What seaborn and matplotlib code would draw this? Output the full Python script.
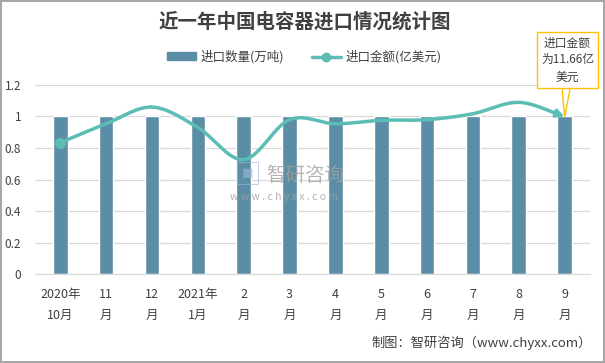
import numpy as np
import pandas as pd
import matplotlib
matplotlib.use("Agg")
import matplotlib.pyplot as plt
import seaborn as sns
from matplotlib.patches import Patch
from matplotlib.lines import Line2D

sns.set_style("white")
plt.rcParams['font.family'] = ['Noto Sans CJK SC', 'DejaVu Sans']

# 数据
months = ["2020年\n10月", "11\n月", "12\n月", "2021年\n1月", "2\n月", "3\n月",
          "4\n月", "5\n月", "6\n月", "7\n月", "8\n月", "9\n月"]
qty = [1, 1, 1, 1, 1, 1, 1, 1, 1, 1, 1, 1]                 # 进口数量(万吨)
amount = [9.73, 11.13, 12.36, 10.85, 8.47, 11.43, 11.13,
          11.38, 11.43, 11.87, 12.71, 11.66]               # 进口金额(亿美元)

bar_color = '#5b8ea6'
line_color = '#5bbdb3'

df = pd.DataFrame({'month': months, 'qty': qty, 'amount': amount})

fig = plt.figure(figsize=(6.05, 3.63), dpi=100)
fig.patch.set_edgecolor('#a6a6a6')
fig.patch.set_linewidth(1.5)
ax = fig.add_axes([0.058, 0.245, 0.917, 0.521])

sns.barplot(data=df, x='month', y='qty', color=bar_color, width=0.32,
            saturation=1, ax=ax, zorder=2)
ax.set_ylim(0, 1.2)
ax.set_yticks(np.arange(0, 1.21, 0.2))
ax.set_yticklabels(['0', '0.2', '0.4', '0.6', '0.8', '1', '1.2'], fontsize=8.5, color='#404040')
ax.tick_params(axis='x', labelsize=9, colors='#404040', length=0, pad=10)
ax.tick_params(axis='y', length=0, pad=10)
for lbl in ax.get_xticklabels():
    lbl.set_linespacing(1.75)
ax.set_xlabel('')
ax.set_ylabel('')
ax.grid(axis='y', color='#d9d9d9', lw=0.9, zorder=0)
ax.set_axisbelow(True)
for s in ['top', 'right', 'left']:
    ax.spines[s].set_visible(False)
ax.spines['bottom'].set_color('#d9d9d9')
ax.set_xlim(-0.55, 11.55)

# 平滑曲线（次坐标轴，隐藏）
ax2 = ax.twinx()
ax2.set_ylim(0, 14)
ax2.axis('off')
xs = np.arange(len(amount), dtype=float)
ys = np.array(amount)
px = np.concatenate([[2 * xs[0] - xs[1]], xs, [2 * xs[-1] - xs[-2]]])
py = np.concatenate([[2 * ys[0] - ys[1]], ys, [2 * ys[-1] - ys[-2]]])
cx, cy = [], []
t = np.linspace(0, 1, 20)
for i in range(1, len(px) - 2):
    p0, p1, p2, p3 = py[i - 1], py[i], py[i + 1], py[i + 2]
    q0, q1, q2, q3 = px[i - 1], px[i], px[i + 1], px[i + 2]
    cy.extend(0.5 * (2 * p1 + (-p0 + p2) * t + (2 * p0 - 5 * p1 + 4 * p2 - p3) * t ** 2
                     + (-p0 + 3 * p1 - 3 * p2 + p3) * t ** 3))
    cx.extend(0.5 * (2 * q1 + (-q0 + q2) * t + (2 * q0 - 5 * q1 + 4 * q2 - q3) * t ** 2
                     + (-q0 + 3 * q1 - 3 * q2 + q3) * t ** 3))
ax2.plot(cx[:-3], cy[:-3], color=line_color, lw=2.5, zorder=3, solid_capstyle='round')
ax2.plot(xs[0], ys[0], 'o', color=line_color, ms=7, zorder=4)
ax2.annotate('', xy=(xs[-1], ys[-1]), xytext=(cx[-5], cy[-5]),
             arrowprops=dict(arrowstyle='-|>', color=line_color, lw=2.5,
                             mutation_scale=11, shrinkA=0, shrinkB=0), zorder=4)

# 标注框
ax2.annotate('进口金额\n为11.66亿\n美元', xy=(xs[-1], ys[-1]),
             xytext=(0.938, 0.835), textcoords='figure fraction',
             ha='center', va='center', fontsize=8.5, color='#404040', linespacing=1.4,
             bbox=dict(boxstyle='square,pad=0.35', fc='white', ec='#ffc000', lw=1),
             arrowprops=dict(arrowstyle='wedge,tail_width=0.7,shrink_factor=0.5',
                             fc='white', ec='#ffc000', lw=1, shrinkA=0, shrinkB=0),
             zorder=6)

# 水印
fig.text(0.385, 0.515, '▣', fontsize=20, color='#9fb8d8', alpha=0.6, ha='left', va='center')
fig.text(0.44, 0.518, '智研咨询', fontsize=14, color='#a0a0a0', alpha=0.8, ha='left', va='center')
fig.text(0.38, 0.458, 'w w w . c h y x x . c o m', fontsize=7.5, color='#a0a0a0', alpha=0.8,
         ha='left', va='center')

# 标题和图例
fig.text(0.503, 0.94, '近一年中国电容器进口情况统计图', ha='center', va='center',
         fontsize=14, fontweight='bold', color='#404040')
handles = [Patch(color=bar_color, label='进口数量(万吨)'),
           Line2D([0], [0], color=line_color, lw=2.5, marker='o', ms=6,
                  markevery=[0], label='进口金额(亿美元)')]
fig.legend(handles=handles, loc='center', bbox_to_anchor=(0.503, 0.843), ncol=2,
           frameon=False, fontsize=9, handlelength=2.3, handleheight=0.6,
           columnspacing=2.2, handletextpad=0.4, labelcolor='#404040')

fig.text(0.978, 0.055, '制图：智研咨询（www.chyxx.com）', ha='right', va='center',
         fontsize=9.5, color='#404040')

fig.savefig('out.png', dpi=100)
